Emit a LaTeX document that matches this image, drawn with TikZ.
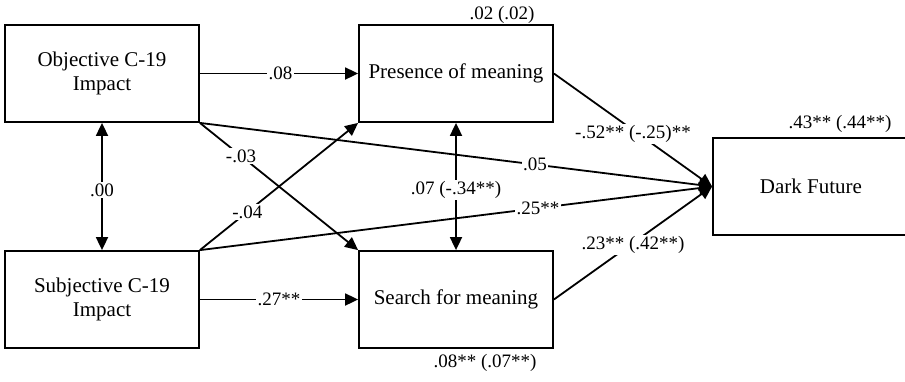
\documentclass[tikz,border=0pt]{standalone}
\usepackage{fontspec}
\setmainfont{Liberation Serif}
\usetikzlibrary{arrows.meta}
\begin{document}
\begin{tikzpicture}[x=1pt,y=-1pt,
  box/.style={draw, line width=1.8pt, minimum width=194pt, minimum height=97pt, inner sep=0pt, align=center, font=\fontsize{21}{24}\selectfont},
  conn/.style={line width=1.8pt, -{Triangle[length=13pt,width=12pt]}},
  dconn/.style={line width=1.8pt, {Triangle[length=13pt,width=12pt]}-{Triangle[length=13pt,width=12pt]}},
  lab/.style={fill=white, inner sep=1.5pt, font=\fontsize{19}{22}\selectfont},
  note/.style={inner sep=0pt, font=\fontsize{19}{22}\selectfont}]
\useasboundingbox (0,0) rectangle (905,381);
\fill[white] (0,0) rectangle (905,381);
\node[box] (obj) at (102,73.5) {Objective C-19\\Impact};
\node[box] (sub) at (102,299.5) {Subjective C-19\\Impact};
\node[box] (pres) at (456,73.5) {Presence of meaning};
\node[box] (srch) at (456,299.5) {Search for meaning};
\node[box, minimum width=196pt] (dark) at (811,186.5) {Dark Future};

\draw[conn] (obj.east) -- node[lab, pos=0.51] {.08} (pres.west);
\draw[conn] (sub.east) -- node[lab, pos=0.5] {.27**} (srch.west);
\draw[dconn] (obj.south) -- node[lab, pos=0.53] {.00} (sub.north);
\draw[dconn] (pres.south) -- node[lab, pos=0.53] {.07 (-.34**)} (srch.north);
\draw[conn] (obj.south east) -- (dark.west);
\draw[conn] (sub.north east) -- (dark.west);
\draw[conn] (obj.south east) -- (srch.north west);
\draw[conn] (sub.north east) -- (pres.south west);
\path (obj.south east) -- node[lab, pos=0.26] {-.03} (srch.north west);
\path (sub.north east) -- node[lab, pos=0.3] {-.04} (pres.south west);
\path (obj.south east) -- node[lab, pos=0.654] {.05} (dark.west);
\path (sub.north east) -- node[lab, pos=0.66] {.25**} (dark.west);
\draw[conn] (pres.east) -- node[lab, pos=0.5, yshift=-4pt] {-.52** (-.25)**} (dark.west);
\draw[conn] (srch.east) -- node[lab, pos=0.5, yshift=-2pt] {.23** (.42**)} (dark.west);

\node[note] (n1) at (502,15) {.02 (.02)};
\node[note] (n2) at (485,363) {.08** (.07**)};
\node[note] (n3) at (840,124) {.43** (.44**)};
\end{tikzpicture}
\end{document}
